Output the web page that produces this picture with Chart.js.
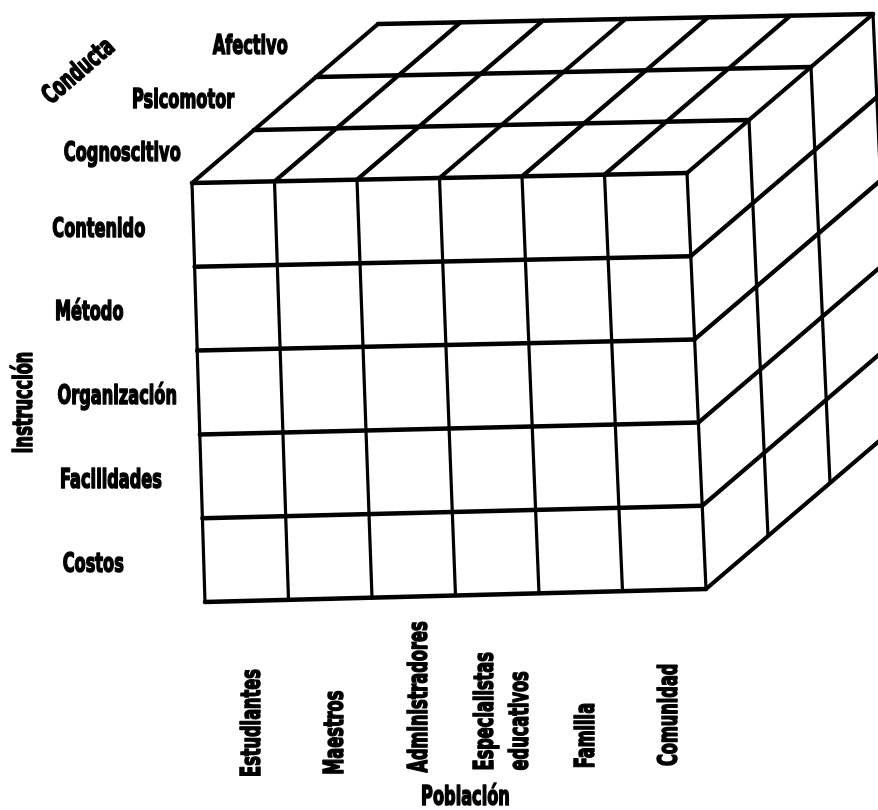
<!DOCTYPE html>
<html>
<head>
<meta charset="utf-8">
<script src="https://cdn.jsdelivr.net/npm/chart.js@4/dist/chart.umd.min.js"></script>
<style>
  html, body { margin: 0; padding: 0; background: #fff; }
  #wrap { width: 878px; height: 810px; }
</style>
</head>
<body>
<div id="wrap"><canvas id="c" width="878" height="810"></canvas></div>
<script>
// ---- Data (categories of the three cube dimensions) ----
const poblacion = ['Estudiantes', 'Maestros', 'Administradores', ['Especialistas', 'educativos'], 'Familia', 'Comunidad'];
const instruccion = ['Contenido', 'Método', 'Organización', 'Facilidades', 'Costos'];
const conducta = ['Cognoscitivo', 'Psicomotor', 'Afectivo'];
const axisTitles = { columns: 'Población', rows: 'Instrucción', depth: 'Conducta' };

// ---- Layout (projection of the cube into the page) ----
const nC = poblacion.length, nR = instruccion.length, nD = conducta.length;
const TL = { x: 192, y: 183 }, TR = { x: 687, y: 173 }, BL = { x: 205, y: 602 }, BR = { x: 706, y: 589 };
const EZ = { x: 62, y: -53 };
function P(c, r, d) {
  const u = c / nC, v = r / nR;
  const tx = TL.x + u * (TR.x - TL.x), ty = TL.y + u * (TR.y - TL.y);
  const bx = BL.x + u * (BR.x - BL.x), by = BL.y + u * (BR.y - BL.y);
  return { x: tx + v * (bx - tx) + d * EZ.x, y: ty + v * (by - ty) + d * EZ.y };
}

const datasets = [];
function seg(a, b, w) {
  datasets.push({ data: [a, b], showLine: true, borderColor: '#000', borderWidth: w,
    pointRadius: 0, pointHoverRadius: 0, borderCapStyle: 'round', fill: false });
}
// front face
for (let r = 0; r <= nR; r++) seg(P(0, r, 0), P(nC, r, 0), 4.5);
for (let c = 0; c <= nC; c++) seg(P(c, 0, 0), P(c, nR, 0), 3.2);
// top face
for (let d = 1; d <= nD; d++) seg(P(0, 0, d), P(nC, 0, d), 4.5);
for (let c = 0; c <= nC; c++) seg(P(c, 0, 0), P(c, 0, nD), 4.2);
// right face
for (let r = 1; r <= nR; r++) seg(P(nC, r, 0), P(nC, r, nD), 4.2);
for (let d = 1; d <= nD; d++) seg(P(nC, 0, d), P(nC, nR, d), 3.2);

const FONT = 'bold 26px "Liberation Sans Narrow", "DejaVu Sans Condensed", "Roboto Condensed", sans-serif';

const labelPlugin = {
  id: 'cubeLabels',
  afterDatasetsDraw(chart) {
    const ctx = chart.ctx, xs = chart.scales.x, ys = chart.scales.y;
    const px = p => ({ x: xs.getPixelForValue(p.x), y: ys.getPixelForValue(p.y) });
    ctx.save();
    ctx.font = FONT;
    ctx.fillStyle = '#000';
    ctx.strokeStyle = '#000';
    ctx.lineWidth = 1.6;
    ctx.lineJoin = 'round';
    ctx.textBaseline = 'middle';
    const sx = 93 / ctx.measureText(instruccion[0]).width; // horizontal compression
    function txt(s, p, align, angle) {
      ctx.save();
      ctx.translate(p.x, p.y);
      ctx.rotate(angle || 0);
      ctx.scale(sx, 1);
      ctx.textAlign = align;
      ctx.fillText(s, 0, 0);
      ctx.strokeText(s, 0, 0);
      ctx.restore();
    }
    // row labels (Instrucción)
    instruccion.forEach((s, r) => {
      const a = px(P(0, r + 0.5, 0));
      txt(s, { x: a.x - 141, y: a.y + 5 }, 'left');
    });
    // depth labels (Conducta)
    conducta.forEach((s, d) => {
      const o = px(P(0, 0, 0));
      txt(s, { x: o.x - 38 + 53.5 * (d + 0.5), y: o.y - 2 - 53.5 * (d + 0.5) }, 'right');
    });
    // column labels (Población)
    poblacion.forEach((s, c) => {
      const a = px(P(c + 0.5, nR, 0));
      const lines = Array.isArray(s) ? s : [s];
      lines.forEach((ln, i) => {
        const off = (i - (lines.length - 1) / 2) * 35;
        txt(ln, { x: a.x + 6 + off, y: a.y + 176 }, 'left', -Math.PI / 2);
      });
    });
    // axis titles
    const b = px(P(nC / 2, nR, 0));
    txt(axisTitles.columns, { x: b.x + 10, y: b.y + 203 }, 'center');
    const l = px(P(0, nR / 2, 0));
    txt(axisTitles.rows, { x: l.x - 173, y: l.y + 10 }, 'center', -Math.PI / 2);
    const t = px(P(0, 0, 0));
    txt(axisTitles.depth, { x: t.x - 113, y: t.y - 111 }, 'center', -40.5 * Math.PI / 180);
    ctx.restore();
  }
};

new Chart(document.getElementById('c'), {
  type: 'scatter',
  data: { datasets },
  options: {
    responsive: false,
    animation: false,
    devicePixelRatio: 1,
    layout: { padding: 0 },
    events: [],
    plugins: { legend: { display: false }, tooltip: { enabled: false } },
    scales: {
      x: { type: 'linear', min: 0, max: 878, display: false },
      y: { type: 'linear', min: 0, max: 810, reverse: true, display: false }
    }
  },
  plugins: [labelPlugin]
});
</script>
</body>
</html>
